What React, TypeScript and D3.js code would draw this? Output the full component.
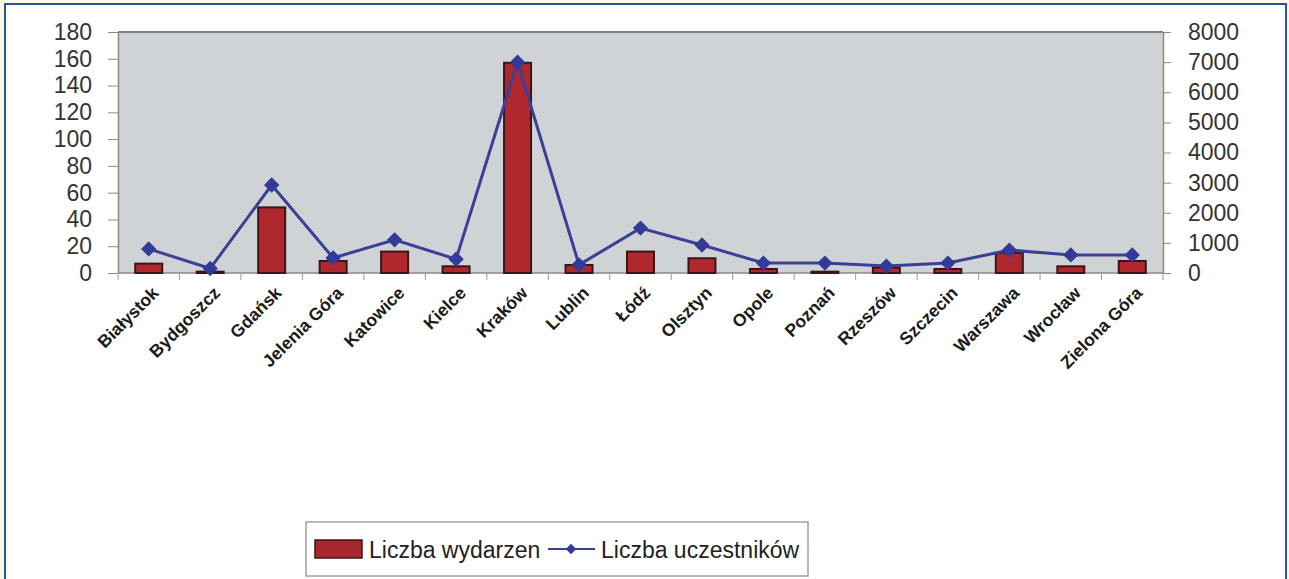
import React, {useEffect, useRef} from 'react';
import * as d3 from 'd3';

const cities = [
  'Białystok', 'Bydgoszcz', 'Gdańsk', 'Jelenia Góra', 'Katowice', 'Kielce', 'Kraków', 'Lublin', 'Łódź',
  'Olsztyn', 'Opole', 'Poznań', 'Rzeszów', 'Szczecin', 'Warszawa', 'Wrocław', 'Zielona Góra',
];
const events = [7, 1, 49, 9, 16, 5, 157, 6, 16, 11, 3, 1, 4, 3, 15, 5, 9];
const participants = [800, 150, 2920, 500, 1100, 460, 7000, 270, 1490, 930, 330, 330, 230, 330, 760, 600, 600];
const left_ticks = [0, 20, 40, 60, 80, 100, 120, 140, 160, 180];
const right_ticks = [0, 1000, 2000, 3000, 4000, 5000, 6000, 7000, 8000];
const legend_labels = ['Liczba wydarzen', 'Liczba uczestników'];

const W = 1289;
const H = 579;
const FONT = 'Liberation Sans, Arial, sans-serif';

export default function App() {
  const ref = useRef<SVGSVGElement | null>(null);

  useEffect(() => {
    const svg = d3.select(ref.current);
    svg.selectAll('*').remove();

    // page background and frame
    svg.append('rect').attr('width', W).attr('height', H).attr('fill', '#fdf9e6');
    svg.append('rect')
      .attr('x', 5).attr('y', 4).attr('width', 1281).attr('height', 590)
      .attr('fill', '#ffffff').attr('stroke', '#2b5694').attr('stroke-width', 2);

    const plot = {left: 118, right: 1163, top: 32, bottom: 273};

    const x = d3.scaleBand<string>().domain(cities).range([plot.left, plot.right]);
    const y_left = d3.scaleLinear().domain([0, 180]).range([plot.bottom, plot.top]);
    const y_right = d3.scaleLinear().domain([0, 8000]).range([plot.bottom, plot.top]);

    // plot area
    svg.append('rect')
      .attr('x', plot.left).attr('y', plot.top)
      .attr('width', plot.right - plot.left).attr('height', plot.bottom - plot.top)
      .attr('fill', '#d0d3d6');
    svg.append('line')
      .attr('x1', plot.left).attr('x2', plot.right).attr('y1', plot.top).attr('y2', plot.top)
      .attr('stroke', '#808080').attr('stroke-width', 2);

    // left axis
    svg.append('g')
      .attr('transform', `translate(${plot.left},0)`)
      .call(d3.axisLeft(y_left).tickValues(left_ticks).tickSize(10).tickSizeOuter(0).tickPadding(16))
      .call((g) => {
        g.select('.domain').attr('stroke', '#8a8a8a').attr('stroke-width', 1.5);
        g.selectAll('.tick line').attr('stroke', '#8a8a8a');
        g.selectAll('.tick text')
          .attr('fill', '#333').style('font-family', FONT).style('font-size', '23px');
      });

    // right axis
    svg.append('g')
      .attr('transform', `translate(${plot.right},0)`)
      .call(
        d3.axisRight(y_right).tickValues(right_ticks).tickFormat(d3.format('d'))
          .tickSize(8).tickSizeOuter(0).tickPadding(17)
      )
      .call((g) => {
        g.select('.domain').attr('stroke', '#8a8a8a').attr('stroke-width', 1.5);
        g.selectAll('.tick line').attr('stroke', '#8a8a8a');
        g.selectAll('.tick text')
          .attr('fill', '#333').style('font-family', FONT).style('font-size', '23px');
      });

    // bottom axis with category ticks at boundaries
    const bottom = svg.append('g').attr('transform', `translate(0,${plot.bottom})`);
    bottom.append('line')
      .attr('x1', plot.left).attr('x2', plot.right)
      .attr('stroke', '#8a8a8a').attr('stroke-width', 1.5);
    bottom.selectAll('line.cat')
      .data(d3.range(cities.length + 1))
      .join('line')
      .attr('class', 'cat')
      .attr('x1', (i) => plot.left + i * x.step())
      .attr('x2', (i) => plot.left + i * x.step())
      .attr('y1', 0).attr('y2', 7)
      .attr('stroke', '#9a9a9a');
    bottom.selectAll('text')
      .data(cities)
      .join('text')
      .attr('transform', (d) => `translate(${(x(d) as number) + x.bandwidth() / 2 + 11},${21}) rotate(-45)`)
      .attr('text-anchor', 'end')
      .attr('fill', '#1a1a1a')
      .style('font-family', FONT)
      .style('font-size', '17.5px')
      .style('font-weight', 'bold')
      .text((d) => d);

    // bars
    const bar_w = 27;
    svg.append('g')
      .selectAll('rect')
      .data(events)
      .join('rect')
      .attr('x', (d, i) => (x(cities[i]) as number) + x.bandwidth() / 2 - bar_w / 2)
      .attr('y', (d) => y_left(d))
      .attr('width', bar_w)
      .attr('height', (d) => plot.bottom - y_left(d))
      .attr('fill', '#b0282e')
      .attr('stroke', '#3a1616')
      .attr('stroke-width', 2);

    // line
    const line = d3.line<number>()
      .x((d, i) => (x(cities[i]) as number) + x.bandwidth() / 2)
      .y((d) => y_right(d));
    svg.append('path')
      .datum(participants)
      .attr('fill', 'none')
      .attr('stroke', '#3c3f96')
      .attr('stroke-width', 3)
      .attr('d', line);

    const diamond = d3.symbol().type(d3.symbolDiamond2).size(150);
    svg.append('g')
      .selectAll('path')
      .data(participants)
      .join('path')
      .attr('transform', (d, i) => `translate(${(x(cities[i]) as number) + x.bandwidth() / 2},${y_right(d)})`)
      .attr('d', diamond)
      .attr('fill', '#333a9a');

    // legend
    const legend = svg.append('g');
    legend.append('rect')
      .attr('x', 306).attr('y', 522).attr('width', 502).attr('height', 54)
      .attr('fill', '#ffffff').attr('stroke', '#a0a0a0').attr('stroke-width', 1.5);
    legend.append('rect')
      .attr('x', 315).attr('y', 540).attr('width', 47).attr('height', 18)
      .attr('fill', '#a8282e').attr('stroke', '#3a1616').attr('stroke-width', 1.5);
    legend.append('text')
      .attr('x', 369).attr('y', 558)
      .attr('fill', '#222')
      .style('font-family', FONT).style('font-size', '23px')
      .text(legend_labels[0]);
    legend.append('line')
      .attr('x1', 548).attr('x2', 595).attr('y1', 549).attr('y2', 549)
      .attr('stroke', '#3c3f96').attr('stroke-width', 2);
    legend.append('path')
      .attr('transform', 'translate(571,549)')
      .attr('d', d3.symbol().type(d3.symbolDiamond2).size(70))
      .attr('fill', '#333a9a');
    legend.append('text')
      .attr('x', 601).attr('y', 558)
      .attr('fill', '#222')
      .style('font-family', FONT).style('font-size', '23px')
      .text(legend_labels[1]);
  }, []);

  return (
    <div style={{position: 'absolute', left: 0, top: 0}}>
      <svg ref={ref} width={W} height={H} style={{display: 'block'}}></svg>
    </div>
  );
}
